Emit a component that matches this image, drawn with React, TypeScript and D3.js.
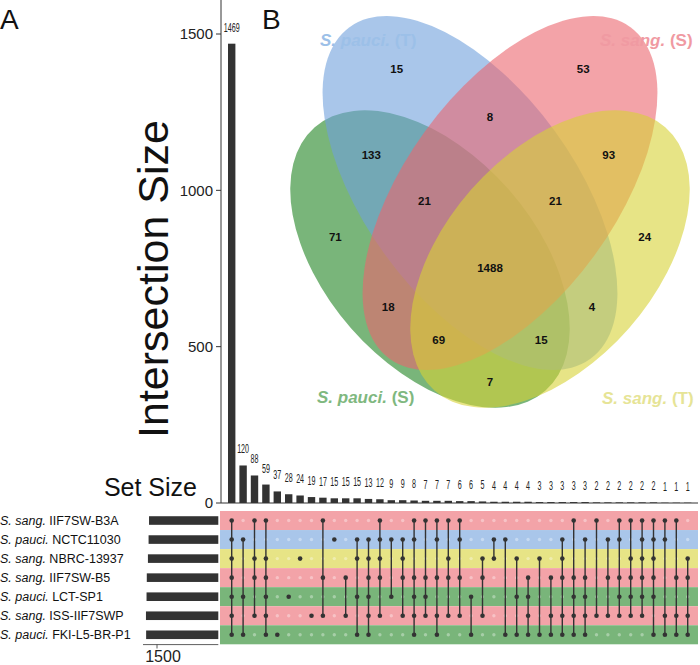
import React from 'react';
import * as d3 from 'd3';

const W = 700;
const H = 665;

// ---------- UpSet data ----------
const setSpecies = ['S. sang.', 'S. pauci.', 'S. sang.', 'S. sang.', 'S. pauci.', 'S. sang.', 'S. pauci.'];
const setStrains = ['IIF7SW-B3A', 'NCTC11030', 'NBRC-13937', 'IIF7SW-B5', 'LCT-SP1', 'ISS-IIF7SWP', 'FKI-L5-BR-P1'];
const setSizes = [1695, 1706, 1722, 1750, 1756, 1770, 1766];
const intersectionSizes = [1469, 120, 88, 59, 37, 28, 24, 19, 17, 15, 15, 15, 13, 12, 9, 9, 8, 7, 7, 7, 6, 6, 5, 4, 4, 4, 4, 3, 3, 3, 3, 3, 2, 2, 2, 2, 2, 2, 1, 1, 1];
const intersectionMembers = [
  [0, 1, 2, 3, 4, 5, 6], [1, 4, 6], [0, 2, 3, 5], [0, 2, 3, 4, 5, 6], [6], [4], [2], [5],
  [0, 3, 5], [1], [3, 5], [1, 2, 4, 6], [1, 2, 3, 4, 5, 6], [0, 1, 2, 3, 5], [1, 4], [1, 2, 3, 5],
  [0, 1, 3, 4, 5, 6], [0, 3, 4, 5], [0, 1, 3, 5, 6], [0, 2, 3, 5], [0, 1, 3, 5], [4, 6], [2, 3, 5],
  [1, 2], [1, 6], [2, 4, 6], [3, 4, 5, 6], [2, 6], [3, 5, 6], [1, 2, 3, 5, 6], [0, 3, 4, 5, 6],
  [1, 3, 4, 5, 6], [0, 5], [1, 3, 5], [0, 1, 3, 4, 5], [0, 2, 3, 4, 5], [0, 1, 2, 3, 4, 5],
  [0, 1, 2, 3, 4, 6], [0, 1, 5, 6], [0, 3, 5, 6], [2, 3, 5, 6],
];
const yTicks = [0, 500, 1000, 1500];
const setSizeTicks = [1500];

// ---------- Venn data ----------
const vennSpecies = ['S. pauci.', 'S. pauci.', 'S. sang.', 'S. sang.'];
const vennTags = ['(S)', '(T)', '(S)', '(T)'];
const vennRegionMasks = [1, 2, 4, 8, 3, 6, 12, 5, 10, 9, 7, 14, 13, 11, 15];
const vennRegionValues = [71, 15, 53, 24, 133, 8, 93, 18, 4, 7, 21, 21, 69, 15, 1488];

// ---------- styles ----------
const rowColors = ['#f3a3a8', '#a9c6ea', '#e7e486', '#f3a3a8', '#79b57a', '#f3a3a8', '#79b57a'];
const vennFills = ['#208421', '#70a0dc', '#eb666e', '#d7d235'];
const vennLabelColors = ['#7fb87f', '#9cc0e8', '#f09aa2', '#e6e496'];
const dark = '#333333';
const FONT = 'Liberation Sans, Arial, Helvetica, sans-serif';

// Venn layout in screen space: four tilted ellipses, mirrored about x = 490
const vennShapes = [
  { cx: 430, cy: 259, a: 175, b: 105, rot: 48.8 },
  { cx: 470, cy: 193, a: 205, b: 105, rot: 54 },
  { cx: 510, cy: 193, a: 205, b: 105, rot: -54 },
  { cx: 550, cy: 259, a: 175, b: 105, rot: -48.8 },
];

type Shape = { cx: number; cy: number; a: number; b: number; rot: number };

function inside(s: Shape, x: number, y: number) {
  const p = (s.rot * Math.PI) / 180;
  const dx = x - s.cx;
  const dy = y - s.cy;
  const u = dx * Math.cos(p) + dy * Math.sin(p);
  const v = -dx * Math.sin(p) + dy * Math.cos(p);
  return (u / s.a) ** 2 + (v / s.b) ** 2 <= 1;
}

export default function App() {
  const n = intersectionSizes.length;
  const xC = d3.scalePoint<number>().domain(d3.range(n)).range([231.7, 687.7]);
  const y = d3.scaleLinear().domain([0, 1500]).range([503, 34]);
  const rowBand = d3.scaleBand<number>().domain(d3.range(setStrains.length)).range([511, 644.3]);
  const rowC = (i: number) => (rowBand(i) as number) + rowBand.bandwidth() / 2;
  const setX = d3.scaleLinear().domain([0, 1500]).range([218.3, 157]);
  const barW = 7.4;

  // region label positions: centroid of each region
  const acc: Record<number, [number, number, number]> = {};
  for (let X = 260; X <= 700; X += 2) {
    for (let Y = 0; Y <= 430; Y += 2) {
      let m = 0;
      vennShapes.forEach((s, i) => {
        if (inside(s, X, Y)) m |= 1 << i;
      });
      if (!m) continue;
      if (!acc[m]) acc[m] = [0, 0, 0];
      acc[m][0] += X;
      acc[m][1] += Y;
      acc[m][2] += 1;
    }
  }
  const regionPos = vennRegionMasks.map((m) => {
    const a = acc[m];
    return a ? [a[0] / a[2], a[1] / a[2]] : [0, 0];
  });

  const catPos = [
    { x: 317, y: 403 },
    { x: 320, y: 46 },
    { x: 600, y: 46 },
    { x: 602, y: 404 },
  ];

  return (
    <svg width={W} height={H} style={{ position: 'absolute', left: 0, top: 0, background: '#fff' }} fontFamily={FONT}>
      {/* Venn */}
      <g>
        {vennShapes.map((s, i) => (
          <ellipse key={i} cx={0} cy={0} rx={s.a} ry={s.b} transform={`translate(${s.cx},${s.cy}) rotate(${s.rot})`} fill={vennFills[i]} fillOpacity={0.6} stroke="none" />
        ))}
        {vennRegionValues.map((v, i) => (
          <text key={i} x={regionPos[i][0]} y={regionPos[i][1]} dy="0.35em" textAnchor="middle" fontSize={11.5} fontWeight="bold" fill="#111">
            {v}
          </text>
        ))}
        {vennSpecies.map((sp, i) => (
          <text key={i} x={catPos[i].x} y={catPos[i].y} fontSize={17} fontWeight="bold" fill={vennLabelColors[i]}>
            <tspan fontStyle="italic">{sp}</tspan>
            <tspan> {vennTags[i]}</tspan>
          </text>
        ))}
      </g>

      {/* Panel letters */}
      <text x={0} y={29} fontSize={28} fill="#111">A</text>
      <text x={262} y={29} fontSize={28} fill="#111">B</text>

      {/* Intersection bars */}
      <line x1={221} x2={221} y1={0} y2={503} stroke={dark} strokeWidth={1} />
      <line x1={221} x2={698} y1={503} y2={503} stroke={dark} strokeWidth={1} />
      {yTicks.map((t) => (
        <g key={t}>
          <line x1={216} x2={221} y1={y(t)} y2={y(t)} stroke={dark} />
          <text x={213} y={y(t)} dy="0.35em" textAnchor="end" fontSize={15} fill="#222">{t}</text>
        </g>
      ))}
      <text transform={`translate(168,279) rotate(-90)`} textAnchor="middle" fontSize={43} fill="#111">Intersection Size</text>
      {intersectionSizes.map((v, i) => (
        <g key={i}>
          <rect x={(xC(i) as number) - barW / 2} y={y(v)} width={barW} height={503 - y(v)} fill={dark} />
          <text transform={`translate(${xC(i)},${y(v) - 12}) scale(0.55,1)`} textAnchor="middle" fontSize={13} fill="#222">{v}</text>
        </g>
      ))}

      {/* Matrix */}
      {setStrains.map((_, r) => (
        <rect key={r} x={220} y={rowBand(r)} width={478} height={rowBand.bandwidth()} fill={rowColors[r]} />
      ))}
      {intersectionSizes.map((_, i) =>
        setStrains.map((__, r) => (
          <circle key={`${i}-${r}`} cx={xC(i)} cy={rowC(r)} r={1.7} fill="#ffffff" fillOpacity={0.35} />
        ))
      )}
      {intersectionMembers.map((mem, i) => {
        const ys = mem.map(rowC);
        return (
          <g key={i}>
            {mem.length > 1 && (
              <line x1={xC(i)} x2={xC(i)} y1={d3.min(ys)} y2={d3.max(ys)} stroke={dark} strokeWidth={1.4} />
            )}
            {mem.map((r) => (
              <circle key={r} cx={xC(i)} cy={rowC(r)} r={2.3} fill={dark} />
            ))}
          </g>
        );
      })}

      {/* Set sizes */}
      <text x={197} y={496} textAnchor="end" fontSize={25} fill="#111">Set Size</text>
      {setSizes.map((v, r) => (
        <rect key={r} x={setX(v)} y={rowC(r) - 4.3} width={setX(0) - setX(v)} height={8.6} fill={dark} />
      ))}
      <line x1={143} x2={218.3} y1={644.6} y2={644.6} stroke={dark} strokeWidth={0.8} />
      {setSizeTicks.map((t) => (
        <g key={t}>
          <line x1={setX(t)} x2={setX(t)} y1={644.6} y2={648.5} stroke={dark} strokeWidth={0.8} />
          <text x={setX(t) + 6} y={662} textAnchor="middle" fontSize={16} fill="#222">{t}</text>
        </g>
      ))}
      {setStrains.map((s, r) => (
        <text key={r} x={0} y={rowC(r)} dy="0.36em" fontSize={12.5} fill="#111">
          <tspan fontStyle="italic">{setSpecies[r]}</tspan>
          <tspan> {s}</tspan>
        </text>
      ))}
    </svg>
  );
}
